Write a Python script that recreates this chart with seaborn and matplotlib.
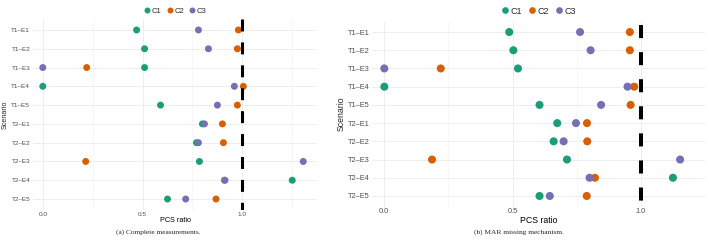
import matplotlib
matplotlib.use("Agg")
import matplotlib.pyplot as plt
import seaborn as sns
import pandas as pd
from matplotlib.lines import Line2D

scenarios = ["T1–E1", "T1–E2", "T1–E3", "T1–E4", "T1–E5",
             "T2–E1", "T2–E2", "T2–E3", "T2–E4", "T2–E5"]
methods = ["C1", "C2", "C3"]

# Panel (a): complete measurements
a_c1 = [0.47, 0.51, 0.51, 0.00, 0.59, 0.80, 0.77, 0.785, 1.25, 0.625]
a_c2 = [0.98, 0.975, 0.22, 1.005, 0.975, 0.90, 0.905, 0.215, 0.91, 0.868]
a_c3 = [0.78, 0.83, 0.00, 0.96, 0.875, 0.81, 0.78, 1.305, 0.913, 0.716]

# Panel (b): MAR missing mechanism
b_c1 = [0.487, 0.503, 0.521, 0.00, 0.605, 0.674, 0.66, 0.712, 1.125, 0.605]
b_c2 = [0.957, 0.957, 0.22, 0.974, 0.96, 0.79, 0.791, 0.186, 0.821, 0.789]
b_c3 = [0.763, 0.804, 0.00, 0.948, 0.845, 0.747, 0.699, 1.153, 0.80, 0.645]

reference = 1.0
captions = ["(a) Complete measurements.", "(b) MAR missing mechanism."]

plt.rcParams["lines.scale_dashes"] = False
sns.set_theme(style="white")
plt.rcParams["font.family"] = ["Liberation Sans", "DejaVu Sans"]

palette = dict(zip(methods, sns.color_palette("Dark2", 3)))


def long_df(c1, c2, c3):
    rows = []
    for m, vals in zip(methods, [c1, c2, c3]):
        for s, v in zip(scenarios, vals):
            rows.append({"Scenario": s, "PCS ratio": v, "Method": m})
    return pd.DataFrame(rows)


fig = plt.figure(figsize=(7.09, 2.43), dpi=100)

specs = [
    dict(df=long_df(a_c1, a_c2, a_c3), rect=[33/709, 1-210.3/243, 284/709, 191.6/243],
         xlim=(-0.049, 1.374), tick_fs=4.6, lab_fs=5.2, leg_fs=5.5, msize=5.0,
         lw=2.2, dash=(0.0, (8.6, 7.9)), cap_x=158/709, ylab_x=5/709, ms_leg=4.3,
         tpad=1.0),
    dict(df=long_df(b_c1, b_c2, b_c3), rect=[372/709, 1-206.9/243, 333/709, 185.8/243],
         xlim=(-0.048, 1.209), tick_fs=5.3, lab_fs=6.3, leg_fs=6.5, msize=5.8,
         lw=2.9, dash=(16.6, (9.4, 10.1)), cap_x=519/709, ylab_x=341/709, ms_leg=4.8,
         tpad=0.8),
]

for sp, cap in zip(specs, captions):
    ax = fig.add_axes(sp["rect"])
    ax.set_axisbelow(True)
    sns.stripplot(data=sp["df"], x="PCS ratio", y="Scenario", hue="Method",
                  order=scenarios, hue_order=methods, palette=palette,
                  jitter=False, size=sp["msize"], linewidth=0, ax=ax,
                  legend=False, zorder=2)
    ax.plot([reference, reference], [-0.6, 9.6], color="black", lw=sp["lw"],
            linestyle=sp["dash"], zorder=3, solid_capstyle="butt",
            dash_capstyle="butt")
    ax.set_xlim(*sp["xlim"])
    ax.set_ylim(9.6, -0.6)
    ax.set_xticks([0.0, 0.5, 1.0])
    ax.set_xticklabels(["0.0", "0.5", "1.0"])
    ax.set_xticks([0.25, 0.75, 1.25], minor=True)
    ax.grid(True, which="major", color="#EBEBEB", lw=0.6)
    ax.grid(True, which="minor", axis="x", color="#F2F2F2", lw=0.4)
    for s in ax.spines.values():
        s.set_visible(False)
    ax.tick_params(axis="y", which="both", length=0, labelsize=sp["tick_fs"],
                   labelcolor="#4D4D4D", pad=2)
    ax.tick_params(axis="x", which="both", length=0, labelsize=sp["tick_fs"],
                   labelcolor="#4D4D4D", pad=sp["tpad"])
    ax.set_xlabel("PCS ratio", fontsize=sp["lab_fs"], labelpad=0.5, color="black")
    ax.set_ylabel("")
    fig.text(sp["ylab_x"], (ax.get_position().y0 + ax.get_position().y1) / 2,
             "Scenario", rotation=90, fontsize=sp["lab_fs"], ha="center",
             va="center")
    handles = [Line2D([], [], marker="o", linestyle="", markersize=sp["ms_leg"],
                      markerfacecolor=palette[m], markeredgewidth=0, label=m)
               for m in methods]
    pos = ax.get_position()
    fig.legend(handles=handles, loc="center",
               bbox_to_anchor=((pos.x0 + pos.x1) / 2, 1 - 11/243), ncol=3,
               frameon=False, fontsize=sp["leg_fs"], handletextpad=0.1,
               columnspacing=0.6, handlelength=1.0, borderaxespad=0)
    fig.text(sp["cap_x"], 1 - 232/243, cap, ha="center", va="center",
             fontsize=5.3, family=["Liberation Serif", "DejaVu Serif"])

fig.savefig("out.png", dpi=100)
